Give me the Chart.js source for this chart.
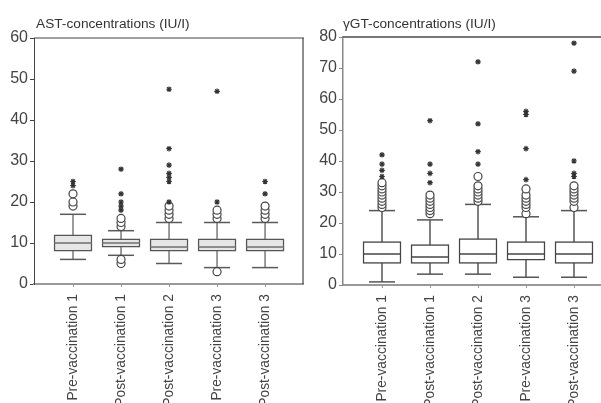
<!DOCTYPE html>
<html>
<head>
<meta charset="utf-8">
<script src="https://cdn.jsdelivr.net/npm/chart.js@4/dist/chart.umd.min.js"></script>
<style>
  html, body { margin: 0; padding: 0; background: #ffffff; }
  #wrap { position: relative; width: 601px; height: 403px; overflow: hidden; background: #fff; }
  #c1 { position: absolute; left: 0; top: 0; }
  #c2 { position: absolute; left: 306px; top: 0; }
</style>
</head>
<body>
<div id="wrap">
  <canvas id="c1" width="306" height="403"></canvas>
  <canvas id="c2" width="295" height="403"></canvas>
</div>
<script>
// ---------- data ----------
const categories = ['Pre-vaccination 1', 'Post-vaccination 1', 'Post-vaccination 2', 'Pre-vaccination 3', 'Post-vaccination 3'];

const astTitle = 'AST-concentrations (IU/I)';
const astTicks = [0, 10, 20, 30, 40, 50, 60];
const astLow    = [6, 7, 5, 4, 4];
const astQ1     = [8, 9, 8, 8, 8];
const astMedian = [10, 10, 9, 9, 9];
const astQ3     = [12, 11, 11, 11, 11];
const astHigh   = [17, 13, 15, 15, 15];
const astCircles = [
  [19, 20, 22],
  [5, 6, 14, 15, 16],
  [16, 17, 18, 19],
  [3, 16, 17, 18],
  [16, 17, 18, 19]
];
const astStars = [
  [24, 25],
  [18, 19, 20, 22, 28],
  [20, 25, 26, 27, 29, 33, 47.5],
  [20, 47],
  [22, 25]
];

const ggtTitle = '\u03B3GT-concentrations (IU/I)';
const ggtTicks = [0, 10, 20, 30, 40, 50, 60, 70, 80];
const ggtLow    = [1, 3.5, 3.5, 2.5, 2.5];
const ggtQ1     = [7, 7, 7, 8, 7];
const ggtMedian = [10, 9, 10, 10, 10];
const ggtQ3     = [14, 13, 15, 14, 14];
const ggtHigh   = [24, 21, 26, 22, 24];
const ggtCircles = [
  [25, 26, 27, 28, 29, 30, 31, 32, 33],
  [23, 24, 25, 26, 27, 28, 29],
  [27, 28, 29, 30, 31, 32, 35],
  [23, 25, 26, 27, 28, 29, 31],
  [25, 27, 28, 29, 30, 31, 32]
];
const ggtStars = [
  [35, 37, 39, 42],
  [33, 36, 39, 53],
  [39, 43, 52, 72],
  [34, 44, 55, 56],
  [35, 36, 40, 69, 78]
];

// ---------- helpers ----------
const frameLines = {
  id: 'frameLines',
  afterDatasetsDraw(chart, args, opts) {
    const a = chart.chartArea, ctx = chart.ctx;
    ctx.save();
    ctx.strokeStyle = opts.color;
    ctx.lineWidth = opts.width;
    ctx.beginPath();
    ctx.moveTo(a.left, a.top);
    ctx.lineTo(a.right + 1, a.top);
    if (opts.right) {
      ctx.moveTo(a.right, a.top);
      ctx.lineTo(a.right, a.bottom);
    }
    ctx.stroke();
    ctx.restore();
  }
};

const panelTitle = {
  id: 'panelTitle',
  afterDraw(chart, args, opts) {
    const ctx = chart.ctx;
    ctx.save();
    ctx.font = opts.font;
    ctx.fillStyle = opts.color;
    ctx.textBaseline = 'alphabetic';
    ctx.textAlign = 'left';
    ctx.fillText(opts.text, chart.chartArea.left + opts.dx, opts.y);
    ctx.restore();
  }
};

function buildChart(canvasId, cfg) {
  const n = categories.length;
  const whiskerData = [];
  const capData = [];
  const boxData = [];
  const medData = [];
  const circleData = [];
  const starData = [];
  for (let i = 0; i < n; i++) {
    whiskerData.push({x: i, y: cfg.low[i]}, {x: i, y: cfg.high[i]}, {x: i, y: null});
    capData.push({x: i, y: cfg.low[i]}, {x: i, y: cfg.high[i]});
    boxData.push({x: i, y: [cfg.q1[i], cfg.q3[i]]});
    medData.push({x: i, y: cfg.median[i]});
    cfg.circles[i].forEach(v => circleData.push({x: i, y: v}));
    cfg.stars[i].forEach(v => starData.push({x: i, y: v}));
  }
  const axisFont = {family: '"Liberation Sans", Arial, sans-serif', size: 16};
  const labelFont = {family: '"Liberation Sans", Arial, sans-serif', size: 13.8};

  return new Chart(document.getElementById(canvasId), {
    type: 'bar',
    data: {
      datasets: [
        { type: 'line', data: whiskerData, borderColor: cfg.whiskerColor, borderWidth: 1.5,
          pointRadius: 0, spanGaps: false, order: 5 },
        { type: 'scatter', data: capData, pointStyle: 'line', pointRadius: 13, pointBorderWidth: 1.5,
          pointBorderColor: cfg.capColor, order: 4 },
        { type: 'bar', data: boxData, grouped: false, barThickness: 38, backgroundColor: cfg.boxFill,
          borderColor: cfg.boxBorder, borderWidth: 1.5, borderSkipped: false, order: 3 },
        { type: 'scatter', data: medData, pointStyle: 'line', pointRadius: 19, pointBorderWidth: 1.5,
          pointBorderColor: cfg.medianColor, order: 2 },
        { type: 'scatter', data: circleData, pointStyle: 'circle', pointRadius: 4,
          pointBackgroundColor: '#ffffff', pointBorderColor: '#444444', pointBorderWidth: 1.2, order: 1 },
        { type: 'scatter', data: starData, pointStyle: 'star', pointRadius: 2.8,
          pointBorderColor: '#333333', pointBorderWidth: 1.2, order: 0 }
      ]
    },
    options: {
      responsive: false,
      animation: false,
      devicePixelRatio: 1,
      layout: { autoPadding: false, padding: { top: cfg.top, right: cfg.padRight, left: 0, bottom: 0 } },
      plugins: {
        legend: { display: false },
        tooltip: { enabled: false },
        frameLines: { color: cfg.frameColor, width: cfg.frameWidth, right: cfg.rightBorder },
        panelTitle: { text: cfg.title, font: '13.7px "Liberation Sans", Arial, sans-serif',
          color: '#333333', dx: cfg.titleDx, y: 28 }
      },
      scales: {
        x: {
          type: 'linear',
          offset: false,
          min: -0.8125,
          max: cfg.xMax,
          afterBuildTicks: (axis) => { axis.ticks = categories.map((c, i) => ({value: i})); },
          afterFit: (axis) => { axis.height = cfg.xHeight; axis.paddingLeft = 0; axis.paddingRight = 0; },
          ticks: {
            autoSkip: false, minRotation: 90, maxRotation: 90, padding: 7,
            color: '#444444', font: labelFont,
            callback: (v) => categories[v]
          },
          grid: { offset: false, drawOnChartArea: false, drawTicks: true, tickLength: 3, color: '#999999' },
          border: { color: '#999999', width: 2 }
        },
        y: {
          type: 'linear',
          min: cfg.ticks[0],
          max: cfg.ticks[cfg.ticks.length - 1],
          afterBuildTicks: (axis) => { axis.ticks = cfg.ticks.map(v => ({value: v})); },
          afterFit: (axis) => { axis.width = cfg.yWidth; },
          ticks: { color: '#444444', font: axisFont, padding: 2 },
          grid: { drawOnChartArea: false, drawTicks: true, tickLength: 4, color: cfg.yAxisColor },
          border: { color: cfg.yAxisColor, width: cfg.yAxisWidth }
        }
      }
    },
    plugins: [frameLines, panelTitle]
  });
}

buildChart('c1', {
  title: astTitle, ticks: astTicks, low: astLow, q1: astQ1, median: astMedian, q3: astQ3, high: astHigh,
  circles: astCircles, stars: astStars,
  boxFill: '#e6e6e6', boxBorder: '#555555', medianColor: '#6e6e6e', whiskerColor: '#7a7a7a', capColor: '#5a5a5a',
  top: 38, padRight: 3, xHeight: 119, yWidth: 34, xMax: 4.79,
  frameColor: '#444444', frameWidth: 1.2, rightBorder: true, titleDx: 2,
  yAxisColor: '#444444', yAxisWidth: 1
});

buildChart('c2', {
  title: ggtTitle, ticks: ggtTicks, low: ggtLow, q1: ggtQ1, median: ggtMedian, q3: ggtQ3, high: ggtHigh,
  circles: ggtCircles, stars: ggtStars,
  boxFill: '#ffffff', boxBorder: '#444444', medianColor: '#444444', whiskerColor: '#555555', capColor: '#555555',
  top: 37, padRight: 0, xHeight: 118, yWidth: 37, xMax: 4.5625,
  frameColor: '#777777', frameWidth: 2, rightBorder: false, titleDx: 0,
  yAxisColor: '#888888', yAxisWidth: 1.5
});
</script>
</body>
</html>
